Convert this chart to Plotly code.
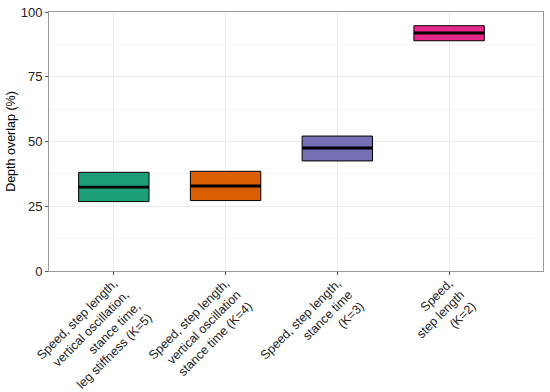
import plotly.graph_objects as go

categories = [
    "Speed, step length,<br>vertical oscillation,<br>stance time,<br>leg stiffness (K=5)",
    "Speed, step length,<br>vertical oscillation<br>stance time (K=4)",
    "Speed, step length,<br>stance time<br>(K=3)",
    "Speed,<br>step length<br>(K=2)",
]
q1 = [26.8, 27.2, 42.5, 88.9]
median = [32.4, 32.8, 47.5, 91.9]
q3 = [38.1, 38.5, 52.1, 94.7]
colors = ["#1B9E77", "#D95F02", "#7570B3", "#E7298A"]

pos = list(range(len(categories)))
box_w = 0.63
med_thick = 1.1

fig = go.Figure()
fig.add_trace(go.Bar(
    x=pos, y=[b - a for a, b in zip(q1, q3)], base=q1, width=box_w,
    marker=dict(color=colors, line=dict(color="black", width=1)),
    showlegend=False, hoverinfo="skip",
))
fig.add_trace(go.Bar(
    x=pos, y=[med_thick] * len(median), base=[m - med_thick / 2 for m in median],
    width=box_w, marker=dict(color="black", line=dict(width=0)),
    showlegend=False, hoverinfo="skip",
))

fig.update_layout(
    width=550, height=392,
    margin=dict(l=49, r=7, t=12, b=121),
    plot_bgcolor="white", paper_bgcolor="white",
    barmode="overlay",
    font=dict(family="Liberation Sans, Arial, sans-serif", size=13, color="black"),
    xaxis=dict(
        range=[-0.58, 3.84], tickvals=pos, ticktext=categories, tickangle=-45,
        showgrid=True, gridcolor="#ebebeb", gridwidth=1,
        ticks="outside", ticklen=3, tickcolor="#555555",
        showline=True, linecolor="#999999", mirror=True, linewidth=1,
        tickfont=dict(size=12.5, color="#222222"), zeroline=False, automargin=False,
        ticklabelstandoff=-4,
    ),
    yaxis=dict(
        range=[0, 100], tickvals=[0, 25, 50, 75, 100],
        showgrid=True, gridcolor="#ebebeb", gridwidth=1,
        minor=dict(tickvals=[12.5, 37.5, 62.5, 87.5], showgrid=True, gridcolor="#f5f5f5", ticks=""),
        ticks="outside", ticklen=3, tickcolor="#555555",
        showline=True, linecolor="#999999", mirror=True, linewidth=1,
        tickfont=dict(size=13, color="#222222"), zeroline=False, automargin=False,
        title=dict(text="Depth overlap (%)", font=dict(size=12.5), standoff=2),
    ),
)

fig.write_html("out.html", config={"displayModeBar": False},
               post_script="document.body.style.margin='0';document.body.style.overflow='hidden';")
